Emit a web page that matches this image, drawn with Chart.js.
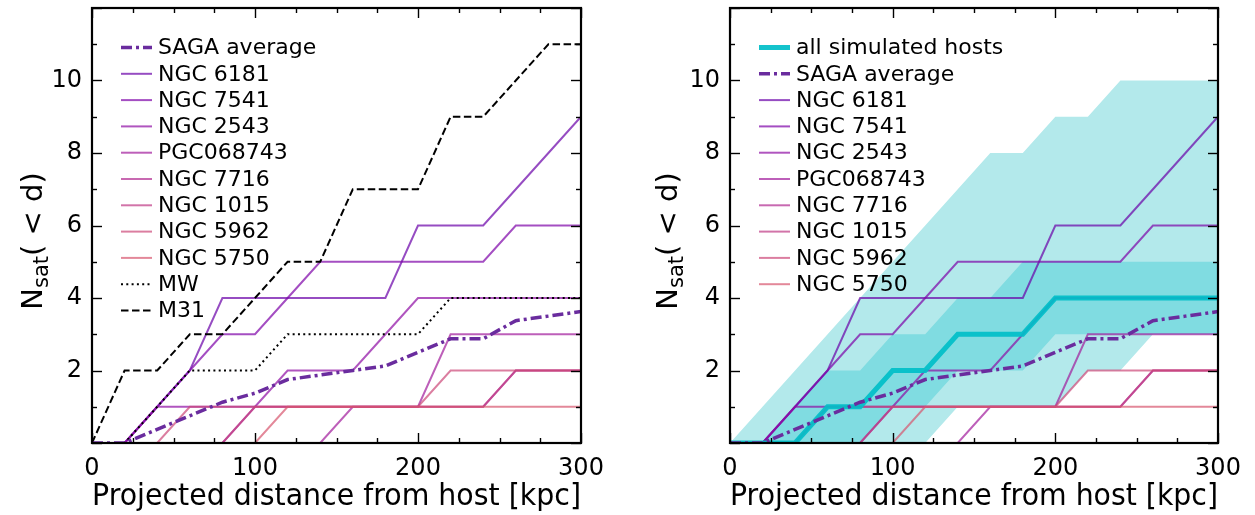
<!DOCTYPE html>
<html>
<head>
<meta charset="utf-8">
<title>Cumulative satellites vs projected distance</title>
<script src="https://cdn.jsdelivr.net/npm/chart.js@4.4.1/dist/chart.umd.min.js"></script>
<style>
  html, body { margin: 0; padding: 0; background: #ffffff; }
  #wrap { position: relative; width: 1255px; height: 515px; overflow: hidden; }
  .panel { position: absolute; top: 0; height: 515px; }
  #left { left: 0; width: 627px; }
  #right { left: 627px; width: 628px; }
</style>
</head>
<body>
<div id="wrap">
  <div class="panel" id="left"><canvas id="leftChart" width="627" height="515"></canvas></div>
  <div class="panel" id="right"><canvas id="rightChart" width="628" height="515"></canvas></div>
</div>
<script>
// projected distance grid [kpc]
const distance = [0, 20, 40, 60, 80, 100, 120, 140, 160, 180, 200, 220, 240, 260, 280, 300];

// cumulative satellite counts per SAGA host
const sagaAverage = [0, 0, 0.375, 0.75, 1.125, 1.375, 1.75, 1.875, 2, 2.125, 2.5, 2.875, 2.875, 3.375, 3.5, 3.625];
const ngc6181   = [0, 0, 1, 2, 4, 4, 4, 4, 4, 4, 6, 6, 6, 7, 8, 9];
const ngc7541   = [0, 0, 1, 2, 3, 3, 4, 5, 5, 5, 5, 5, 5, 6, 6, 6];
const ngc2543   = [0, 0, 1, 1, 1, 1, 2, 2, 2, 3, 4, 4, 4, 4, 4, 4];
const pgc068743 = [0, 0, 0, 0, 0, 0, 0, 0, 1, 1, 1, 3, 3, 3, 3, 3];
const ngc7716   = [0, 0, 0, 0, 0, 1, 1, 1, 1, 1, 1, 1, 1, 2, 2, 2];
const ngc1015   = [0, 0, 0, 0, 0, 1, 1, 1, 1, 1, 1, 1, 1, 2, 2, 2];
const ngc5962   = [0, 0, 0, 1, 1, 1, 1, 1, 1, 1, 1, 2, 2, 2, 2, 2];
const ngc5750   = [0, 0, 0, 0, 0, 0, 1, 1, 1, 1, 1, 1, 1, 1, 1, 1];
const milkyWay  = [0, 0, 1, 2, 2, 2, 3, 3, 3, 3, 3, 4, 4, 4, 4, 4];
const m31       = [0, 2, 2, 3, 3, 4, 5, 5, 7, 7, 7, 9, 9, 10, 11, 11];

// simulated hosts: median and two scatter bands
const simMedian    = [0, 0, 0, 1, 1, 2, 2, 3, 3, 3, 4, 4, 4, 4, 4, 4];
const simInnerHigh = [0, 0, 1, 2, 2, 3, 3, 4, 4, 5, 5, 5, 5, 5, 5, 5];
const simInnerLow  = [0, 0, 0, 0, 0, 1, 1, 2, 2, 2, 3, 3, 3, 3, 3, 3];
const simOuterHigh = [0, 1, 2, 3, 4, 5, 6, 7, 8, 8, 9, 9, 10, 10, 10, 10];
const simOuterLow  = [0, 0, 0, 0, 0, 0, 0, 1, 1, 1, 1, 2, 2, 3, 3, 3];

const hostNames = ['NGC 6181', 'NGC 7541', 'NGC 2543', 'PGC068743', 'NGC 7716', 'NGC 1015', 'NGC 5962', 'NGC 5750'];
const hostCounts = [ngc6181, ngc7541, ngc2543, pgc068743, ngc7716, ngc1015, ngc5962, ngc5750];
const hostColors = [
    'rgba(106, 0, 168, 0.7)', 'rgba(125, 3, 168, 0.7)', 'rgba(143, 13, 164, 0.7)', 'rgba(161, 27, 155, 0.7)',
    'rgba(177, 42, 144, 0.7)', 'rgba(191, 57, 132, 0.7)', 'rgba(204, 71, 120, 0.7)', 'rgba(215, 86, 109, 0.7)',
];

// axis ticks
const xTickValues = [0, 25, 50, 75, 100, 125, 150, 175, 200, 225, 250, 275, 300];
const xMajorValues = [0, 100, 200, 300];
const yTickValues = [0, 1, 2, 3, 4, 5, 6, 7, 8, 9, 10, 11, 12];
const yMajorValues = [0, 2, 4, 6, 8, 10, 12];

const FONT = '"DejaVu Sans", sans-serif';

const pts = (arr) => distance.map((d, i) => ({ x: d, y: arr[i] }));

function hostDatasets() {
    return hostNames.map((name, i) => ({
        label: name,
        data: pts(hostCounts[i]),
        borderColor: hostColors[i],
        borderWidth: 2,
        order: 30 - i,
        showInLegend: true,
    }));
}

const sagaDataset = () => ({
    label: 'SAGA average',
    data: pts(sagaAverage),
    borderColor: '#6a2c9e',
    borderWidth: 3.5,
    borderDash: [11, 4, 3, 4],
    order: 1,
    showInLegend: true,
});

// frame, inward ticks, legend and y title
const panelDecor = {
    id: 'panelDecor',
    afterDraw(chart, args, opts) {
        const { ctx, chartArea: a, scales } = chart;
        const xs = scales.x, ys = scales.y;
        ctx.save();

        ctx.strokeStyle = '#000';
        ctx.lineWidth = 1.4;
        const seg = (x1, y1, x2, y2) => {
            ctx.beginPath();
            ctx.moveTo(x1, y1);
            ctx.lineTo(x2, y2);
            ctx.stroke();
        };
        xTickValues.forEach(v => {
            const px = Math.round(xs.getPixelForValue(v)) + 0.5;
            const len = xMajorValues.includes(v) ? 10 : 5;
            seg(px, a.bottom, px, a.bottom - len);
            seg(px, a.top, px, a.top + len);
        });
        yTickValues.forEach(v => {
            const py = Math.round(ys.getPixelForValue(v)) + 0.5;
            const len = yMajorValues.includes(v) ? 10 : 5;
            seg(a.left, py, a.left + len, py);
            seg(a.right, py, a.right - len, py);
        });
        ctx.lineWidth = 2.2;
        ctx.strokeRect(a.left, a.top, a.right - a.left, a.bottom - a.top);

        // legend
        let rowY = a.top + 39.5;
        chart.data.datasets.filter(ds => ds.showInLegend).forEach(ds => {
            ctx.save();
            ctx.strokeStyle = ds.borderColor;
            ctx.lineWidth = ds.borderWidth;
            ctx.setLineDash(ds.borderDash || []);
            seg(a.left + 29, rowY, a.left + 60, rowY);
            ctx.restore();
            ctx.fillStyle = '#000';
            ctx.font = '22px ' + FONT;
            ctx.textBaseline = 'middle';
            ctx.fillText(ds.label, a.left + 66, rowY + 1);
            rowY += 26.3;
        });

        // y title: N_sat( < d)
        ctx.translate(opts.titleX, opts.titleY);
        ctx.rotate(-Math.PI / 2);
        ctx.fillStyle = '#000';
        ctx.textBaseline = 'alphabetic';
        ctx.font = '29px ' + FONT;
        const wN = ctx.measureText('N').width;
        const wTail = ctx.measureText('( < d)').width;
        ctx.font = '21px ' + FONT;
        const wSub = ctx.measureText('sat').width;
        const x0 = -(wN + wSub + wTail) / 2;
        ctx.font = '29px ' + FONT;
        ctx.fillText('N', x0, 10);
        ctx.font = '21px ' + FONT;
        ctx.fillText('sat', x0 + wN, 16);
        ctx.font = '29px ' + FONT;
        ctx.fillText('( < d)', x0 + wN + wSub, 10);
        ctx.restore();
    },
};

function makeOptions(yAxisWidth, rightPad, titleX) {
    return {
        responsive: false,
        animation: false,
        layout: { padding: { left: 0, top: 8, right: rightPad, bottom: 0 } },
        elements: { point: { radius: 0 }, line: { tension: 0, borderCapStyle: 'butt' } },
        plugins: {
            legend: { display: false },
            tooltip: { enabled: false },
            panelDecor: { titleX: titleX, titleY: 241 },
        },
        scales: {
            x: {
                type: 'linear',
                min: 0,
                max: 300,
                grid: { display: false, drawTicks: false },
                border: { display: false },
                ticks: { stepSize: 100, color: '#000', font: { family: FONT, size: 24 }, padding: 11, maxRotation: 0 },
                title: {
                    display: true,
                    text: 'Projected distance from host [kpc]',
                    color: '#000',
                    font: { family: FONT, size: 29.6 },
                    padding: { top: 0, bottom: 0 },
                },
                afterFit(s) { s.height = 72; s.paddingLeft = 0; s.paddingRight = 0; },
            },
            y: {
                type: 'linear',
                min: 0,
                max: 12,
                grid: { display: false, drawTicks: false },
                border: { display: false },
                ticks: {
                    stepSize: 2,
                    color: '#000',
                    font: { family: FONT, size: 24 },
                    padding: 10,
                    callback: (v) => (v > 0 && v < 12 ? v : ''),
                },
                afterFit(s) { s.width = yAxisWidth; s.paddingTop = 0; s.paddingBottom = 0; },
            },
        },
    };
}

new Chart(document.getElementById('leftChart'), {
    type: 'line',
    data: {
        datasets: [
            sagaDataset(),
            ...hostDatasets(),
            { label: 'MW', data: pts(milkyWay), borderColor: '#000', borderWidth: 2, borderDash: [2, 3.3], order: 5, showInLegend: true },
            { label: 'M31', data: pts(m31), borderColor: '#000', borderWidth: 2, borderDash: [7.5, 3.5], order: 4, showInLegend: true },
        ],
    },
    options: makeOptions(92, 46, 32),
    plugins: [panelDecor],
});

new Chart(document.getElementById('rightChart'), {
    type: 'line',
    data: {
        datasets: [
            { label: 'all simulated hosts', data: pts(simMedian), borderColor: 'rgba(0, 190, 200, 0.92)', borderWidth: 5, order: 10, showInLegend: true },
            sagaDataset(),
            ...hostDatasets(),
            { label: 'outer high', data: pts(simOuterHigh), borderWidth: 0, backgroundColor: '#b3e9eb', fill: 11, order: 100 },
            { label: 'outer low', data: pts(simOuterLow), borderWidth: 0, fill: false, order: 101 },
            { label: 'inner high', data: pts(simInnerHigh), borderWidth: 0, backgroundColor: '#80dce1', fill: 13, order: 90 },
            { label: 'inner low', data: pts(simInnerLow), borderWidth: 0, fill: false, order: 91 },
        ],
    },
    options: makeOptions(103, 37, 40),
    plugins: [panelDecor],
});
</script>
</body>
</html>
